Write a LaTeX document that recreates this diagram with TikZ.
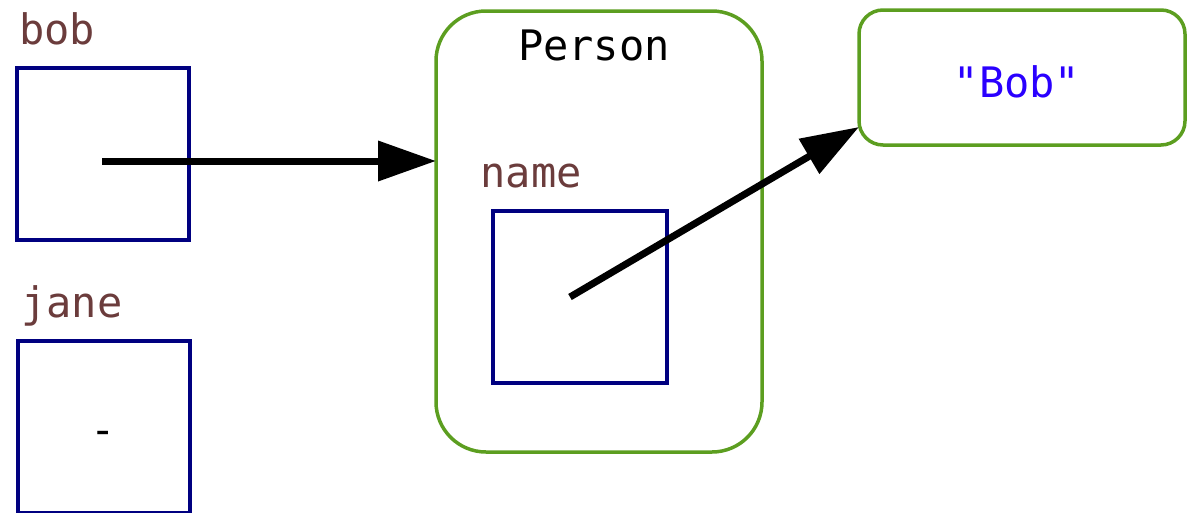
\documentclass[tikz,border=0pt]{standalone}
\usepackage{fontspec}
\setmonofont{DejaVu Sans Mono}
\usetikzlibrary{arrows.meta,calc}
\definecolor{varnavy}{RGB}{0,0,128}
\definecolor{objgreen}{RGB}{92,158,32}
\definecolor{labelbrown}{RGB}{107,60,60}
\definecolor{strblue}{RGB}{42,0,255}
\begin{document}
\begin{tikzpicture}[x=1pt,y=-1pt,
  txt/.style={font=\ttfamily\fontsize{42}{50}\selectfont, inner sep=0pt, anchor=base},
  varbox/.style={draw=varnavy, line width=3.5pt, minimum width=172pt, minimum height=172pt,
    inner sep=0pt, outer sep=0pt, anchor=north west},
  objbox/.style={draw=objgreen, line width=3.5pt, inner sep=0pt, outer sep=0pt, anchor=north west},
  ref/.style={line width=7pt, -{Triangle[length=58pt,width=39pt]}}]
\useasboundingbox (0,0) rectangle (1192,512);

% variables
\node[txt, text=labelbrown] (boblbl) at (57,44) {bob};
\node[varbox] (bobbox) at (17,68) {};
\node[txt, text=labelbrown] (janelbl) at (72,317) {jane};
\node[varbox] (janebox) at (18,341) {};
\node[txt] (janeval) at (103,444) {-};

% the Person object
\node[objbox, rounded corners=50pt, minimum width=326pt, minimum height=441pt] (person) at (436,11) {};
\node[txt] (personlbl) at (594,60) {Person};
\node[txt, text=labelbrown] (namelbl) at (531,187) {name};
\node[varbox, minimum width=174pt] (namebox) at (493,211) {};

% the string object
\node[objbox, rounded corners=24pt, minimum width=326pt, minimum height=135pt] (strbox) at (859,10) {};
\node[txt, text=strblue] (strval) at (1017,97) {"Bob"};

% references
\coordinate (bobref) at (102,161);
\coordinate (nameref) at (570,297);
\coordinate (strin) at ($(strbox.south west)+(0,-18)$);
\draw[ref] (bobref) -- (bobref -| person.west);
\draw[ref] (nameref) -- (strin);
\end{tikzpicture}
\end{document}
